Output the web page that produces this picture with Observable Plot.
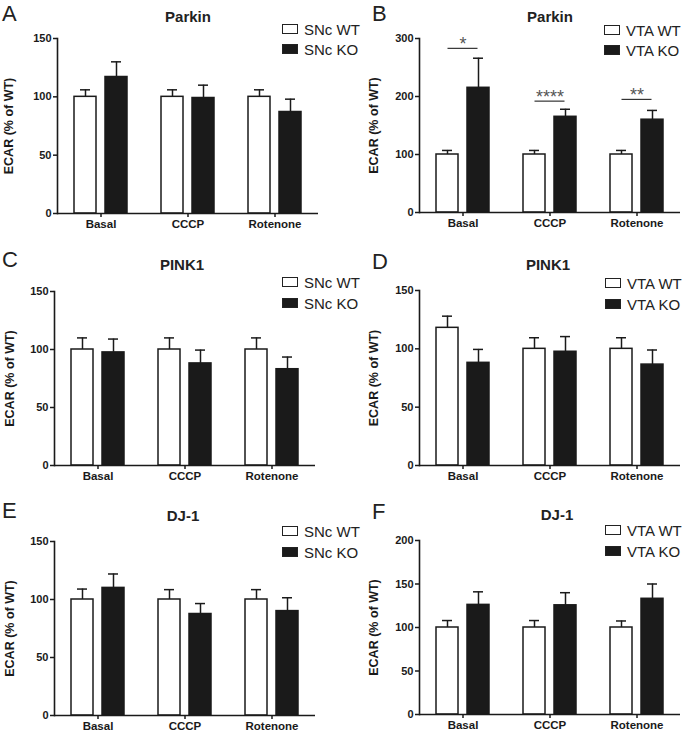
<!DOCTYPE html>
<html><head><meta charset="utf-8">
<script src="https://cdn.jsdelivr.net/npm/d3@7"></script>
<script src="https://cdn.jsdelivr.net/npm/@observablehq/plot@0.6"></script>
<style>
body{margin:0;background:#fff;}
#root{position:relative;width:683px;height:735px;overflow:hidden;font-family:"Liberation Sans",Arial,sans-serif;}
#root svg{position:absolute;background:transparent;overflow:visible;}
.t{position:absolute;white-space:nowrap;line-height:1;color:#222;}
.title{font-weight:bold;font-size:15px;transform:translate(-50%,-50%);}
.letter{font-size:22px;transform:translateY(-50%);}
.leg{font-size:15px;transform:translateY(-50%);}
.box{position:absolute;box-sizing:border-box;border:1.6px solid #222;}
</style></head><body><div id="root"></div><script>
// ---- data ----
const categories = ["Basal", "CCCP", "Rotenone"];
const seriesKeys = ["WT", "KO"];
const regionSNc = "SNc";
const regionVTA = "VTA";
const yLabel = "ECAR (% of WT)";

const parkinSNcWT = [100, 100, 100];
const parkinSNcWTErr = [6, 6, 6];
const parkinSNcKO = [117, 99, 87];
const parkinSNcKOErr = [13, 11, 11];

const parkinVTAWT = [100, 100, 100];
const parkinVTAWTErr = [7, 7, 7];
const parkinVTAKO = [215, 165, 160];
const parkinVTAKOErr = [51, 13, 16];
const parkinVTASigLabels = ["*", "****", "**"];
const parkinVTASigY = [283, 192, 195];

const pink1SNcWT = [100, 100, 100];
const pink1SNcWTErr = [10, 10, 10];
const pink1SNcKO = [97.5, 88, 83];
const pink1SNcKOErr = [11.5, 11.5, 10.5];

const pink1VTAWT = [118, 100, 100];
const pink1VTAWTErr = [10, 9.5, 9.5];
const pink1VTAKO = [88, 97.5, 86.5];
const pink1VTAKOErr = [11.5, 13, 12.5];

const dj1SNcWT = [100, 100, 100];
const dj1SNcWTErr = [9, 8.5, 8.5];
const dj1SNcKO = [110, 87.5, 90];
const dj1SNcKOErr = [12, 9, 11.5];

const dj1VTAWT = [100, 100, 100];
const dj1VTAWTErr = [8, 8, 7.5];
const dj1VTAKO = [126, 125.5, 133];
const dj1VTAKOErr = [15, 14.5, 17];

const ticks150 = [0, 50, 100, 150];
const ticks300 = [0, 100, 200, 300];
const ticks200 = [0, 50, 100, 150, 200];

// ---- layout ----
const panels = [
  {letter:"A", title:"Parkin", region:regionSNc, wt:parkinSNcWT, wtE:parkinSNcWTErr, ko:parkinSNcKO, koE:parkinSNcKOErr, ticks:ticks150,
   box:{left:0, top:0, width:340, height:235, mL:57, mR:22, mT:38, mB:22, lab:53}, titleXY:[188,16], letterXY:[2,14], legXY:[282,24], legGap:20},
  {letter:"B", title:"Parkin", region:regionVTA, wt:parkinVTAWT, wtE:parkinVTAWTErr, ko:parkinVTAKO, koE:parkinVTAKOErr, ticks:ticks300,
   sig:{labels:parkinVTASigLabels, y:parkinVTASigY},
   box:{left:340, top:0, width:343, height:235, mL:78, mR:2, mT:38, mB:23, lab:50}, titleXY:[550,16], letterXY:[372,14], legXY:[604,25], legGap:20},
  {letter:"C", title:"PINK1", region:regionSNc, wt:pink1SNcWT, wtE:pink1SNcWTErr, ko:pink1SNcKO, koE:pink1SNcKOErr, ticks:ticks150,
   box:{left:0, top:235, width:340, height:250, mL:53, mR:24, mT:56, mB:20, lab:49}, titleXY:[182,264], letterXY:[2,260], legXY:[282,277], legGap:20.5},
  {letter:"D", title:"PINK1", region:regionVTA, wt:pink1VTAWT, wtE:pink1VTAWTErr, ko:pink1VTAKO, koE:pink1VTAKOErr, ticks:ticks150,
   box:{left:340, top:235, width:343, height:250, mL:78, mR:3, mT:55, mB:20, lab:50}, titleXY:[548,264], letterXY:[372,262], legXY:[605,278], legGap:20.5},
  {letter:"E", title:"DJ-1", region:regionSNc, wt:dj1SNcWT, wtE:dj1SNcWTErr, ko:dj1SNcKO, koE:dj1SNcKOErr, ticks:ticks150,
   box:{left:0, top:475, width:340, height:260, mL:53, mR:24, mT:66, mB:20, lab:49}, titleXY:[183,515], letterXY:[2,511], legXY:[282,526], legGap:21},
  {letter:"F", title:"DJ-1", region:regionVTA, wt:dj1VTAWT, wtE:dj1VTAWTErr, ko:dj1VTAKO, koE:dj1VTAKOErr, ticks:ticks200,
   box:{left:340, top:475, width:343, height:260, mL:78, mR:2, mT:65, mB:21, lab:50}, titleXY:[557,514], letterXY:[372,512], legXY:[605,525], legGap:21},
];

const root = document.getElementById("root");
const INK = "#1a1a1a";

function addText(cls, txt, x, y) {
  const d = document.createElement("div");
  d.className = "t " + cls;
  d.textContent = txt;
  d.style.left = x + "px";
  d.style.top = y + "px";
  root.appendChild(d);
}

panels.forEach(p => {
  const b = p.box;
  const rows = [];
  categories.forEach((c, i) => {
    rows.push({cat:c, grp:seriesKeys[0], v:p.wt[i], e:p.wtE[i]});
    rows.push({cat:c, grp:seriesKeys[1], v:p.ko[i], e:p.koE[i]});
  });
  const wtRows = rows.filter(d => d.grp === seriesKeys[0]);
  const koRows = rows.filter(d => d.grp === seriesKeys[1]);
  const marks = [
    Plot.ruleX(rows, {fx:"cat", x:"grp", y1:"v", y2:d => d.v + d.e, stroke:INK, strokeWidth:1.5}),
    Plot.tickY(rows, {fx:"cat", x:"grp", y:d => d.v + d.e, stroke:INK, strokeWidth:1.5, insetLeft:6, insetRight:6}),
    Plot.barY(wtRows, {fx:"cat", x:"grp", y:"v", fill:"#fff", stroke:INK, strokeWidth:1.5}),
    Plot.barY(koRows, {fx:"cat", x:"grp", y:"v", fill:INK, stroke:INK, strokeWidth:1.5}),
    Plot.ruleY([0], {stroke:INK, strokeWidth:1.6}),
    Plot.frame({anchor:"left", facetAnchor:"left", stroke:INK, strokeWidth:1.6}),
    Plot.axisY({ticks:p.ticks, tickSize:4, tickPadding:2, tickFormat:d3.format("d"), label:null, stroke:INK, strokeWidth:1.5, fontSize:11}),
    Plot.axisY({ticks:[], label:yLabel, labelAnchor:"center", labelArrow:"none", labelOffset:b.lab, fontSize:12.5}),
    Plot.axisFx({anchor:"bottom", tickSize:4, tickPadding:2, label:null, stroke:INK, strokeWidth:1.5, fontSize:11.5})
  ];
  if (p.sig) {
    const sigRows = categories.map((c, i) => ({cat:c, label:p.sig.labels[i], y:p.sig.y[i]}));
    marks.push(Plot.ruleY(sigRows, {fx:"cat", y:"y", x1:() => seriesKeys[0], x2:() => seriesKeys[1], insetLeft:11.5, insetRight:11.5, stroke:"#333", strokeWidth:1.2}));
    marks.push(Plot.text(sigRows, {fx:"cat", y:"y", text:"label", dy:-4, fontSize:18, fill:"#555", fontWeight:"normal"}));
  }
  const svg = Plot.plot({
    width:b.width, height:b.height,
    marginLeft:b.mL, marginRight:b.mR, marginTop:b.mT, marginBottom:b.mB,
    fx:{domain:categories, padding:0, label:null},
    x:{domain:seriesKeys, paddingInner:0.28, paddingOuter:0.5, axis:null},
    y:{domain:[0, p.ticks[p.ticks.length - 1]], label:null},
    style:{fontFamily:"'Liberation Sans', Arial, sans-serif", fontSize:"11px", fontWeight:"bold", color:INK, background:"transparent", overflow:"visible"},
    marks
  });
  svg.style.left = b.left + "px";
  svg.style.top = b.top + "px";
  root.appendChild(svg);

  addText("title", p.title, p.titleXY[0], p.titleXY[1]);
  addText("letter", p.letter, p.letterXY[0], p.letterXY[1]);
  const [lx, ly] = p.legXY;
  seriesKeys.forEach((k, i) => {
    const bx = document.createElement("div");
    bx.className = "box";
    bx.style.left = lx + "px";
    bx.style.top = (ly + i * p.legGap) + "px";
    bx.style.width = "16px";
    bx.style.height = "10px";
    bx.style.background = i === 0 ? "#fff" : INK;
    root.appendChild(bx);
    addText("leg", p.region + " " + k, lx + 22, ly + i * p.legGap + 5);
  });
});
</script></body></html>
